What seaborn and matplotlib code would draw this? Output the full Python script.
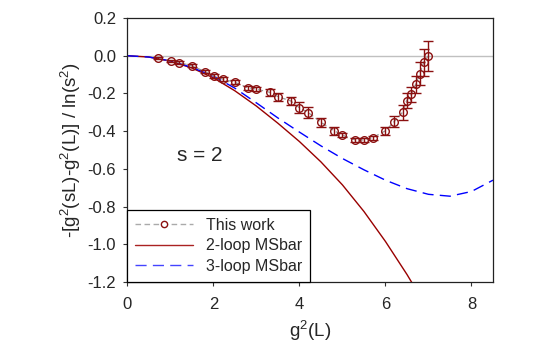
import numpy as np
import pandas as pd
import matplotlib
matplotlib.use("Agg")
import matplotlib.pyplot as plt
import seaborn as sns
from matplotlib.lines import Line2D

# ---- data ----
work_x = [0.71, 1.01, 1.21, 1.50, 1.81, 2.01, 2.22, 2.50, 2.80, 3.00,
          3.31, 3.51, 3.80, 4.00, 4.21, 4.50, 4.81, 4.99, 5.30, 5.50,
          5.70, 6.00, 6.20, 6.40, 6.49, 6.60, 6.70, 6.80, 6.89, 6.99]
work_y = [-0.014, -0.027, -0.037, -0.053, -0.085, -0.108, -0.124, -0.141, -0.170, -0.177,
          -0.194, -0.218, -0.240, -0.276, -0.302, -0.353, -0.398, -0.420, -0.447, -0.447,
          -0.435, -0.398, -0.350, -0.299, -0.239, -0.205, -0.152, -0.095, -0.035, -0.002]
work_err = [0.005, 0.005, 0.007, 0.008, 0.008, 0.010, 0.012, 0.010, 0.010, 0.010,
            0.020, 0.020, 0.020, 0.030, 0.030, 0.025, 0.020, 0.010, 0.010, 0.010,
            0.010, 0.020, 0.030, 0.040, 0.040, 0.040, 0.045, 0.060, 0.070, 0.080]

loop2_x = [0.0, 0.5, 1.0, 1.5, 2.0, 2.5, 3.0, 3.5, 4.0, 4.5, 5.0, 5.5, 6.0, 6.5, 6.75]
loop2_y = [0.0, -0.007, -0.029, -0.065, -0.117, -0.186, -0.267, -0.358, -0.455,
           -0.563, -0.685, -0.826, -0.985, -1.160, -1.255]

loop3_x = [0.0, 0.5, 1.0, 1.5, 2.0, 2.5, 3.0, 3.5, 4.0, 4.5, 5.0, 5.5, 6.0, 6.5,
           7.0, 7.5, 8.0, 8.5]
loop3_y = [0.0, -0.007, -0.027, -0.062, -0.108, -0.172, -0.250, -0.330, -0.405,
           -0.478, -0.545, -0.605, -0.660, -0.705, -0.735, -0.745, -0.720, -0.660]

x_ticks = [0, 2, 4, 6, 8]
y_ticks = [0.2, 0.0, -0.2, -0.4, -0.6, -0.8, -1.0, -1.2]

sns.set_style("ticks")
plt.rcParams['font.family'] = ['Liberation Sans', 'DejaVu Sans']
plt.rcParams['mathtext.fontset'] = 'custom'
plt.rcParams['mathtext.rm'] = 'Liberation Sans'
plt.rcParams['mathtext.it'] = 'Liberation Sans'

fig = plt.figure(figsize=(5.45, 3.58), dpi=100)
ax = fig.add_axes([0.2336, 0.2123, 0.9046 - 0.2336, 0.9497 - 0.2123])

darkred = "#8B1010"

ax.axhline(0.0, color="#c0c0c0", lw=1.0, zorder=1)

df2 = pd.DataFrame({"x": loop2_x, "y": loop2_y})
df3 = pd.DataFrame({"x": loop3_x, "y": loop3_y})
sns.lineplot(data=df2, x="x", y="y", ax=ax, color="#990000", lw=1.0, zorder=2)
sns.lineplot(data=df3, x="x", y="y", ax=ax, color="#0000ff", lw=1.0, zorder=2,
             dashes=False, linestyle=(0, (8, 4.5)))

dfw = pd.DataFrame({"x": work_x, "y": work_y})
sns.lineplot(data=dfw, x="x", y="y", ax=ax, color="#999999", lw=0.9,
             linestyle=(0, (4, 2.5)), zorder=3)
ax.errorbar(work_x, work_y, yerr=work_err, fmt="o", ms=5.5, mfc="none",
            mec=darkred, mew=1.0, ecolor=darkred, elinewidth=1.0,
            capsize=3.3, capthick=1.0, zorder=4)

ax.set_xlim(0, 8.5)
ax.set_ylim(-1.2, 0.2)
ax.set_xticks(x_ticks)
ax.set_xticklabels([str(t) for t in x_ticks])
ax.set_yticks(y_ticks)
ax.set_yticklabels([f"{t:.1f}" for t in y_ticks])
ax.tick_params(direction="out", length=3, width=0.8, labelsize=12, color="#333333")
ax.tick_params(axis="x", pad=8)
ax.tick_params(axis="y", pad=5)
for s in ax.spines.values():
    s.set_visible(True)
    s.set_color("#222222")
    s.set_linewidth(0.9)

ax.set_xlabel(r"g$^2$(L)", fontsize=13.5, labelpad=5)
ax.set_ylabel(r"-[g$^2$(sL)-g$^2$(L)] / ln(s$^2$)", fontsize=13.5, labelpad=3)

ax.text(1.69, -0.527, "s = 2", fontsize=15, ha="center", va="center")

handles = [
    Line2D([0], [0], color="#aaaaaa", lw=1.0, linestyle=(0, (4, 2.5)),
           marker="o", ms=4.5, mfc="white", mec=darkred, mew=1.0),
    Line2D([0], [0], color="#aa2222", lw=1.0),
    Line2D([0], [0], color="#4444ff", lw=1.0, linestyle=(0, (8, 4.5))),
]
labels = ["This work", "2-loop MSbar", "3-loop MSbar"]
leg = ax.legend(handles, labels, loc="lower left", bbox_to_anchor=(0, 0),
                borderaxespad=0, fontsize=11.5, frameon=True, fancybox=False,
                framealpha=1, edgecolor="black", handlelength=3.6,
                handletextpad=0.8, labelspacing=0.35, borderpad=0.5)
leg.get_frame().set_linewidth(0.9)

fig.savefig("out.png", dpi=100)
